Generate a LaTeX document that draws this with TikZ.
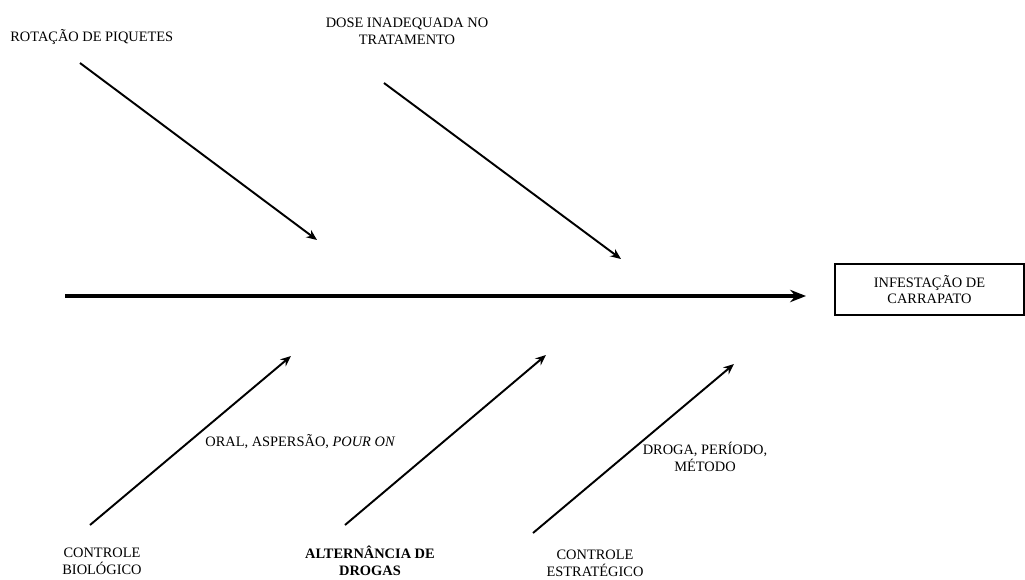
\documentclass[tikz,border=0pt]{standalone}
\usepackage{fontspec}
\setmainfont{Liberation Serif}
\usetikzlibrary{arrows.meta}
\tikzset{
  causa/.style={font=\fontsize{8.2}{9.6}\selectfont, align=center, inner sep=0pt},
  espinha/.style={-{Stealth[length=9pt,width=7pt]}, line width=2pt},
  ramo/.style={-{Stealth[length=6pt,width=5pt]}, line width=1.1pt},
}
\begin{document}
\begin{tikzpicture}[x=0.02cm, y=-0.02cm]
        \useasboundingbox (0,0) rectangle (1025,579);
        % efeito
        \node[causa, draw, line width=0.6pt, minimum width=3.78cm, minimum height=1.02cm]
              (efeito) at (929.5,289.5) {INFESTAÇÃO DE\\CARRAPATO};
        % espinha principal
        \coordinate (cauda) at (65,296);
        \coordinate (cabeca) at (806,296);
        \draw[espinha] (cauda) -- (cabeca);
        % causas de cima
        \node[causa, anchor=west] (rotacao) at (10,37) {ROTAÇÃO DE PIQUETES};
        \node[causa] (dose) at (407,31) {DOSE INADEQUADA NO\\TRATAMENTO};
        \coordinate (r1a) at (80,63);   \coordinate (r1b) at (317,240);
        \coordinate (r2a) at (384,83);  \coordinate (r2b) at (621,259);
        \draw[ramo] (r1a) -- (r1b);
        \draw[ramo] (r2a) -- (r2b);
        % causas de baixo
        \coordinate (r3a) at (90,525);  \coordinate (r3b) at (291,356);
        \coordinate (r4a) at (345,525); \coordinate (r4b) at (546,355);
        \coordinate (r5a) at (533,533); \coordinate (r5b) at (734,364);
        \draw[ramo] (r3a) -- (r3b);
        \draw[ramo] (r4a) -- (r4b);
        \draw[ramo] (r5a) -- (r5b);
        \node[causa, anchor=west] (via) at (205,442) {ORAL, ASPERSÃO, \textit{POUR ON}};
        \node[causa] (droga) at (705,457) {DROGA, PERÍODO,\\MÉTODO};
        \node[causa] (biologico) at (102,561) {CONTROLE\\BIOLÓGICO};
        \node[causa, font=\fontsize{8.2}{9.6}\selectfont\bfseries] (alternancia) at (370,561) {ALTERNÂNCIA DE\\DROGAS};
        \node[causa] (estrategico) at (595,563) {CONTROLE\\ESTRATÉGICO};
\end{tikzpicture}
\end{document}
